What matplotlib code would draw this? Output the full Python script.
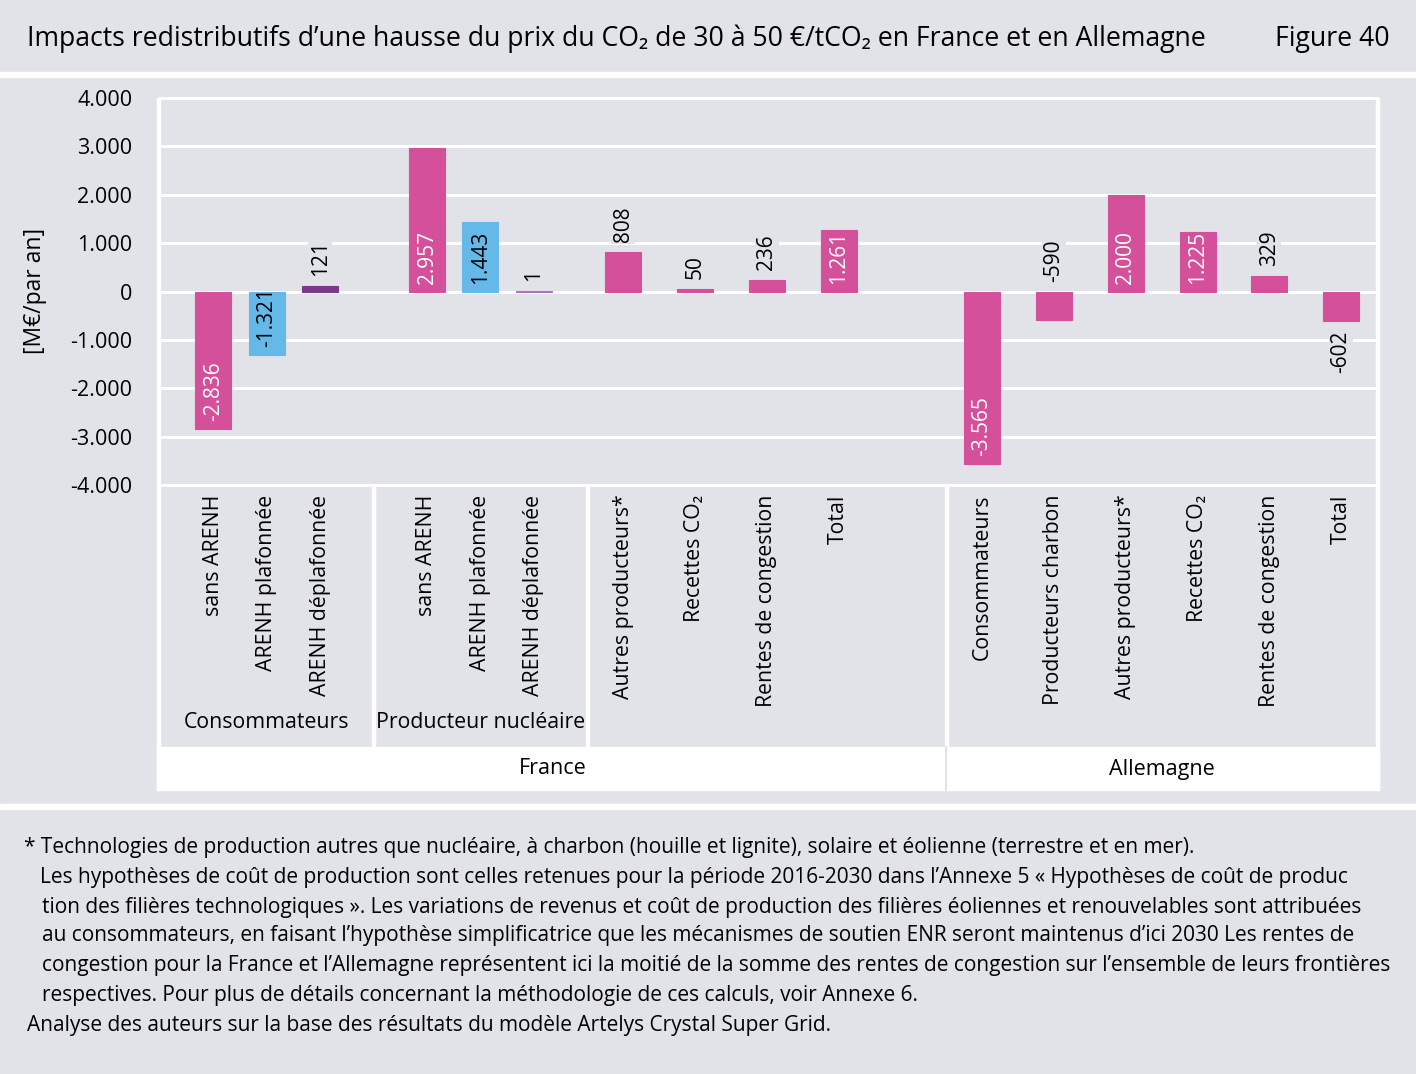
import numpy as np
import matplotlib
matplotlib.use('Agg')
import matplotlib.pyplot as plt
from matplotlib.patches import Rectangle

plt.rcParams['font.family'] = ['Open Sans', 'DejaVu Sans']

# values [M€/par an]
cat_conso_fr = ['sans ARENH', 'ARENH plafonnée', 'ARENH déplafonnée']
val_conso_fr = [-2836, -1321, 121]
cat_nuc_fr = ['sans ARENH', 'ARENH plafonnée', 'ARENH déplafonnée']
val_nuc_fr = [2957, 1443, 1]
cat_autres_fr = ['Autres producteurs*', 'Recettes CO₂', 'Rentes de congestion', 'Total']
val_autres_fr = [808, 50, 236, 1261]
cat_de = ['Consommateurs', 'Producteurs charbon', 'Autres producteurs*',
          'Recettes CO₂', 'Rentes de congestion', 'Total']
val_de = [-3565, -590, 2000, 1225, 329, -602]

yticks = [4000, 3000, 2000, 1000, 0, -1000, -2000, -3000, -4000]
ytick_labels = ['4.000', '3.000', '2.000', '1.000', '0', '-1.000', '-2.000', '-3.000', '-4.000']

group_labels = ['Consommateurs', 'Producteur nucléaire']
country_labels = ['France', 'Allemagne']

title = 'Impacts redistributifs d’une hausse du prix du CO₂ de 30 à 50 €/tCO₂ en France et en Allemagne'
footer = [
    (24, '* Technologies de production autres que nucléaire, à charbon (houille et lignite), solaire et éolienne (terrestre et en mer).'),
    (40, 'Les hypothèses de coût de production sont celles retenues pour la période 2016-2030 dans l’Annexe 5 « Hypothèses de coût de produc'),
    (42, 'tion des filières technologiques ». Les variations de revenus et coût de production des filières éoliennes et renouvelables sont attribuées'),
    (42, 'au consommateurs, en faisant l’hypothèse simplificatrice que les mécanismes de soutien ENR seront maintenus d’ici 2030 Les rentes de'),
    (42, 'congestion pour la France et l’Allemagne représentent ici la moitié de la somme des rentes de congestion sur l’ensemble de leurs frontières'),
    (42, 'respectives. Pour plus de détails concernant la méthodologie de ces calculs, voir Annexe 6.'),
    (27, 'Analyse des auteurs sur la base des résultats du modèle Artelys Crystal Super Grid.'),
]

# colours
bg = '#e2e3e8'
pink = '#d4509a'
blue = '#64b9e8'
purple = '#7b3b8b'
lilac = '#a974bb'

colors = [pink, blue, purple, pink, blue, lilac] + [pink] * 10
label_color = ['white', 'black', 'black', 'white', 'black', 'black',
               'black', 'black', 'black', 'white',
               'white', 'black', 'white', 'white', 'black', 'black']
# where each value label goes: inside base, above bar, above zero, below bar
label_mode = ['in', 'in', 'out', 'in', 'in', 'out',
              'out', 'out', 'out', 'in',
              'in', 'zero', 'in', 'in', 'out', 'below']

# x layout (pixels from plot left edge)
width_px = 1217
u = 53.4
s = (width_px - 8 * u) / 11
x_conso = [u * (i + 1) for i in range(3)]
x_nuc = [u * (i + 5) for i in range(3)]
x_aut = [8 * u + s * (i + 0.5) for i in range(4)]
x_de = [8 * u + 5 * s + s * (i + 0.5) for i in range(6)]

xs = x_conso + x_nuc + x_aut + x_de
vals = val_conso_fr + val_nuc_fr + val_autres_fr + val_de
cats = cat_conso_fr + cat_nuc_fr + cat_autres_fr + cat_de

W, H = 1416, 1074
fig = plt.figure(figsize=(W / 100, H / 100), dpi=100, facecolor=bg)

# background / decoration axes in pixel coordinates
deco = fig.add_axes([0, 0, 1, 1], zorder=0)
deco.set_xlim(0, W)
deco.set_ylim(H, 0)
deco.axis('off')
deco.add_patch(Rectangle((0, 72), W, 5, color='white'))
deco.add_patch(Rectangle((0, 804), W, 5, color='white'))
# white band with countries
deco.add_patch(Rectangle((157, 747), 1222, 43, color='white'))
deco.plot([946, 946], [747, 790], color=bg, lw=1.5)
# borders and separators
deco.add_patch(Rectangle((157, 98), 3, 692, color='white'))
deco.add_patch(Rectangle((1376, 98), 3, 692, color='white'))
for xb in [160 + 4 * u, 160 + 8 * u, 160 + 8 * u + 5 * s]:
    deco.add_patch(Rectangle((xb - 1.5, 485), 3, 262, color='white'))

deco.text(27, 39, title, fontsize=19.2, va='center', ha='left')
deco.text(1390, 39, 'Figure 40', fontsize=19.2, va='center', ha='right')

deco.text(160 + 2 * u, 722, group_labels[0], fontsize=15.3, ha='center', va='center')
deco.text(160 + 6 * u, 722, group_labels[1], fontsize=15.3, ha='center', va='center')
deco.text((160 + 160 + 8 * u + 5 * s) / 2, 769, country_labels[0], fontsize=15.5, ha='center', va='center')
deco.text((160 + 8 * u + 5 * s + 1377) / 2, 769, country_labels[1], fontsize=15.5, ha='center', va='center')

fy = [847, 877, 908, 936, 965, 995, 1025]
for (fx, line), yy in zip(footer, fy):
    deco.text(fx, yy, line, fontsize=15, ha='left', va='center')

deco.text(35, 291, '[M€/par an]', fontsize=16.5, rotation=90, ha='center', va='center')

# main chart
ax = fig.add_axes([160 / W, (H - 485) / H, width_px / W, (485 - 98) / H], zorder=1)
ax.set_facecolor('none')
ax.set_xlim(0, width_px)
ax.set_ylim(-4000, 4000)
for sp in ax.spines.values():
    sp.set_visible(False)
for yt in yticks:
    ax.axhline(yt, color='white', lw=2.2, zorder=1, clip_on=False)

ax.bar(xs, vals, width=36, color=colors, edgecolor=colors, linewidth=0.8, zorder=2)

for x, v, c, m in zip(xs, vals, label_color, label_mode):
    txt = f'{v:,}'.replace(',', '.')
    kw = dict(rotation=90, ha='center', fontsize=15, color=c, zorder=3,
              textcoords='offset pixels')
    box = dict(facecolor=bg, edgecolor='none', pad=1)
    if m == 'in':
        ax.annotate(txt, (x, min(v, 0)), xytext=(0, 8), va='bottom', **kw)
    elif m == 'out':
        ax.annotate(txt, (x, v), xytext=(0, 10), va='bottom', bbox=box, **kw)
    elif m == 'zero':
        ax.annotate(txt, (x, 0), xytext=(0, 9), va='bottom', bbox=box, **kw)
    else:
        ax.annotate(txt, (x, v), xytext=(0, -10), va='top', bbox=box, **kw)

ax.set_yticks(yticks, ytick_labels, fontsize=15.5)
ax.set_xticks(xs, cats, rotation=90, fontsize=15.3)
ax.tick_params(axis='y', length=0, pad=20)
ax.tick_params(axis='x', length=0, pad=7)

fig.savefig('out.png', dpi=100, facecolor=bg)
